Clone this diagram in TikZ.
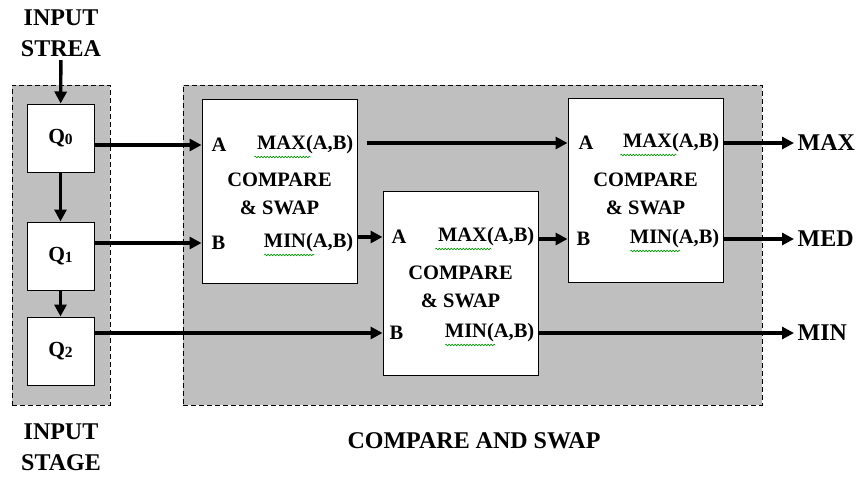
\documentclass[tikz,border=0pt]{standalone}
\usepackage{fontspec}
\setmainfont{Liberation Serif}
\usetikzlibrary{arrows.meta,positioning,decorations.pathmorphing}

\newcommand{\qsub}[1]{{\fontsize{15.5}{15.5}\selectfont\raisebox{-1pt}{#1}}}

\begin{document}
\begin{tikzpicture}[x=1pt,y=-1pt,>={Triangle[length=12pt,width=12pt]},line width=3.4pt,
                    font=\bfseries\fontsize{20.5}{28}\selectfont]
  \tikzstyle{stage}=[draw=black,fill=gray!50,line width=1pt,dash pattern=on 5pt off 3pt]
  \tikzstyle{qbox}=[draw=black,fill=white,line width=1pt,minimum width=67,minimum height=68,
                    font=\bfseries\fontsize{21.5}{24}\selectfont]
  \tikzstyle{csbox}=[draw=black,fill=white,line width=1pt,minimum width=155,minimum height=184]
  \tikzstyle{port}=[inner sep=1pt]
  \tikzstyle{title}=[align=center,inner sep=0pt]
  \tikzstyle{bigtext}=[font=\bfseries\fontsize{24}{31}\selectfont,align=center,inner sep=2pt]
  \tikzstyle{squig}=[draw=green!60!black,line width=0.6pt,
                     decorate,decoration={snake,segment length=3pt,amplitude=0.8pt}]

  \useasboundingbox (0,0) rectangle (862,477);

  % dashed stages
  \node[stage,minimum width=98,minimum height=320] (instage) at (61,245) {};
  \node[stage,minimum width=579,minimum height=320] (csstage) at (472.5,245) {};

  % input stage
  \node[qbox] (q0) at (60.5,138) {Q\qsub{0}};
  \node[qbox] (q1) at (60.5,256) {Q\qsub{1}};
  \node[qbox] (q2) at (60.5,351) {Q\qsub{2}};
  \node[bigtext] (stream) at (61,33) {INPUT\\STREA};
  \node[bigtext] (stagelbl) at (61,447) {INPUT\\STAGE};

  % compare and swap units
  \node[csbox] (cs1) at (279.5,191) {};
  \node[csbox] (cs2) at (460.5,283.5) {};
  \node[csbox] (cs3) at (645.5,190.5) {};

  \node[port,anchor=west] (cs1a) at (209,145) {A};
  \node[port,anchor=east] (cs1max) at (356,145) {MAX(A,B)};
  \node[port,anchor=west] (cs1b) at (209,243) {B};
  \node[port,anchor=east] (cs1min) at (356,243) {MIN(A,B)};
  \node[title] (cs1t) at (279.5,194) {COMPARE\\\& SWAP};

  \node[port,anchor=west] (cs2a) at (389,237) {A};
  \node[port,anchor=east] (cs2max) at (537,237) {MAX(A,B)};
  \node[port,anchor=west] (cs2b) at (387,333) {B};
  \node[port,anchor=east] (cs2min) at (537,333) {MIN(A,B)};
  \node[title] (cs2t) at (460.5,287) {COMPARE\\\& SWAP};

  \node[port,anchor=west] (cs3a) at (576,143) {A};
  \node[port,anchor=east] (cs3max) at (722,143) {MAX(A,B)};
  \node[port,anchor=west] (cs3b) at (574,239) {B};
  \node[port,anchor=east] (cs3min) at (722,239) {MIN(A,B)};
  \node[title] (cs3t) at (645.5,194) {COMPARE\\\& SWAP};

  % spell-check marks
  \draw[squig] (cs1max.south west) -- ++(56,0);
  \draw[squig] ([xshift=3pt]cs1min.south west) -- ++(50,0);
  \draw[squig] (cs2max.south west) -- ++(56,0);
  \draw[squig] ([xshift=3pt]cs2min.south west) -- ++(50,0);
  \draw[squig] (cs3max.south west) -- ++(56,0);
  \draw[squig] ([xshift=3pt]cs3min.south west) -- ++(50,0);

  % outputs
  \node[bigtext,anchor=west] (max) at (794,143) {MAX};
  \node[bigtext,anchor=west] (med) at (794,239) {MED};
  \node[bigtext,anchor=west] (min) at (794,333) {MIN};
  \node[bigtext] (cslbl) at (474,441) {COMPARE AND SWAP};

  % connections
  \draw[->] (stream) -- (q0);
  \draw[->] (q0) -- (q1);
  \draw[->] (q1) -- (q2);
  \draw[->] (q0.east |- cs1a) -- (cs1.west |- cs1a);
  \draw[->] (q1.east |- cs1b) -- (cs1.west |- cs1b);
  \draw[->] (q2.east |- cs2b) -- (cs2.west |- cs2b);
  \draw[->] ([xshift=9pt]cs1.east |- cs3a) -- (cs3.west |- cs3a);
  \draw[->] (cs1.east |- cs2a) -- (cs2.west |- cs2a);
  \draw[->] (cs2.east |- cs3b) -- (cs3.west |- cs3b);
  \draw[->] (cs2.east |- min) -- (min.west);
  \draw[->] (cs3.east |- max) -- (max.west);
  \draw[->] (cs3.east |- med) -- (med.west);
\end{tikzpicture}
\end{document}
